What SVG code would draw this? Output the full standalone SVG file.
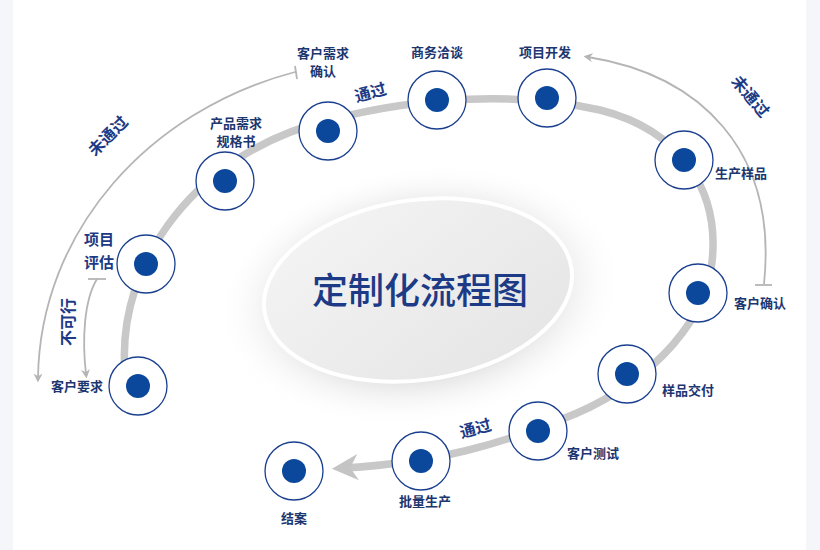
<svg xmlns="http://www.w3.org/2000/svg" width="820" height="550" viewBox="0 0 820 550">
<defs>
<style>
.t{font-family:"Noto Sans CJK SC","Noto Sans",sans-serif;fill:#1c3670;font-size:13px;font-weight:bold;text-anchor:middle}
.b{font-family:"Noto Sans CJK SC","Noto Sans",sans-serif;fill:#1c3a85;font-size:16px;font-weight:bold;text-anchor:middle}
.ring{fill:#fff;stroke:#1a3f8f;stroke-width:1.3}
.dot{fill:#0b489c}
.thin{fill:none;stroke:#b5b5b5;stroke-width:1.8}
</style>
<marker id="ah" viewBox="0 0 10 10" refX="5" refY="5" markerWidth="5" markerHeight="5" orient="auto"><path d="M0,0 L10,5 L0,10 L3,5 z" fill="#b5b5b5"/></marker>
<marker id="ah2" viewBox="0 0 10 10" refX="5" refY="5" markerWidth="3.5" markerHeight="3.5" orient="auto"><path d="M0,0 L10,5 L0,10 L3,5 z" fill="#c4c4c4"/></marker>
<radialGradient id="sh" cx="0.5" cy="0.5" r="0.5"><stop offset="0.55" stop-color="#d2d2d2"/><stop offset="1" stop-color="#fff" stop-opacity="0"/></radialGradient>
<linearGradient id="ef" x1="0" y1="0" x2="1" y2="1"><stop offset="0" stop-color="#f5f5f5"/><stop offset="1" stop-color="#e4e4e4"/></linearGradient>
</defs>
<rect width="820" height="550" fill="#fff"/>
<rect x="0" y="0" width="13" height="550" fill="#f4f6f9"/>
<rect x="806" y="0" width="14" height="550" fill="#f4f6f9"/>
<g id="center">
<ellipse cx="420" cy="295" rx="205" ry="130" fill="url(#sh)" transform="rotate(-8 420 295)"/>
<ellipse cx="418" cy="290" rx="155" ry="90" fill="url(#ef)" stroke="#fff" stroke-width="4" transform="rotate(-8 418 290)"/>
<text x="420" y="304" class="b" style="font-size:36px;font-weight:500">定制化流程图</text>
</g>
<g id="connectors">
<path d="M125,372 C116,260 200,150 330,120 C420,96 520,92 600,110 C680,130 720,190 712,262 C704,330 640,390 560,420 C500,444 440,462 345,468" fill="none" stroke="#c8c8c8" stroke-width="7.5" marker-end="url(#ah2)"/>
<path class="thin" d="M295,72 C150,110 40,230 38,378" marker-end="url(#ah)"/>
<path class="thin" d="M295,66 L297,79"/>
<path class="thin" d="M97,279 C84,300 82,340 86,374" marker-end="url(#ah)"/>
<path class="thin" d="M88,279 L106,279"/>
<path class="thin" d="M764,284 C778,150 700,75 588,57" marker-end="url(#ah)"/>
<path class="thin" d="M755,285 L772,285"/>
<text class="b" transform="translate(112,140) rotate(-45)">未通过</text>
<text class="b" transform="translate(74,322) rotate(-90)">不可行</text>
<text class="b" transform="translate(746,100) rotate(50)">未通过</text>
<text class="b" transform="translate(372,98) rotate(-15)">通过</text>
<text class="b" transform="translate(477,434) rotate(-15)">通过</text>
</g>
<g id="n1"><circle class="ring" cx="138" cy="386" r="29"/><circle class="dot" cx="138" cy="386" r="12"/><text class="t" x="77" y="391">客户要求</text></g>
<g id="n2"><circle class="ring" cx="146" cy="264" r="29"/><circle class="dot" cx="146" cy="264" r="12"/><text class="b" x="99" y="245" style="font-size:15px">项目</text><text class="b" x="99" y="268" style="font-size:15px">评估</text></g>
<g id="n3"><circle class="ring" cx="225" cy="181" r="29"/><circle class="dot" cx="225" cy="181" r="12"/><text class="t" x="236" y="128">产品需求</text><text class="t" x="236" y="146">规格书</text></g>
<g id="n4"><circle class="ring" cx="328" cy="131" r="29"/><circle class="dot" cx="328" cy="131" r="12"/><text class="t" x="323" y="58">客户需求</text><text class="t" x="323" y="76">确认</text></g>
<g id="n5"><circle class="ring" cx="437" cy="100" r="29"/><circle class="dot" cx="437" cy="100" r="12"/><text class="t" x="437" y="57">商务洽谈</text></g>
<g id="n6"><circle class="ring" cx="547" cy="98" r="29"/><circle class="dot" cx="547" cy="98" r="12"/><text class="t" x="545" y="57">项目开发</text></g>
<g id="n7"><circle class="ring" cx="684" cy="160" r="29"/><circle class="dot" cx="684" cy="160" r="12"/><text class="t" x="741" y="178">生产样品</text></g>
<g id="n8"><circle class="ring" cx="698" cy="293" r="29"/><circle class="dot" cx="698" cy="293" r="12"/><text class="t" x="760" y="308">客户确认</text></g>
<g id="n9"><circle class="ring" cx="627" cy="374" r="29"/><circle class="dot" cx="627" cy="374" r="12"/><text class="t" x="688" y="395">样品交付</text></g>
<g id="n10"><circle class="ring" cx="538" cy="431" r="29"/><circle class="dot" cx="538" cy="431" r="12"/><text class="t" x="593" y="458">客户测试</text></g>
<g id="n11"><circle class="ring" cx="421" cy="461" r="29"/><circle class="dot" cx="421" cy="461" r="12"/><text class="t" x="425" y="506">批量生产</text></g>
<g id="n12"><circle class="ring" cx="294" cy="471" r="29"/><circle class="dot" cx="294" cy="471" r="12"/><text class="t" x="294" y="523">结案</text></g>
</svg>
